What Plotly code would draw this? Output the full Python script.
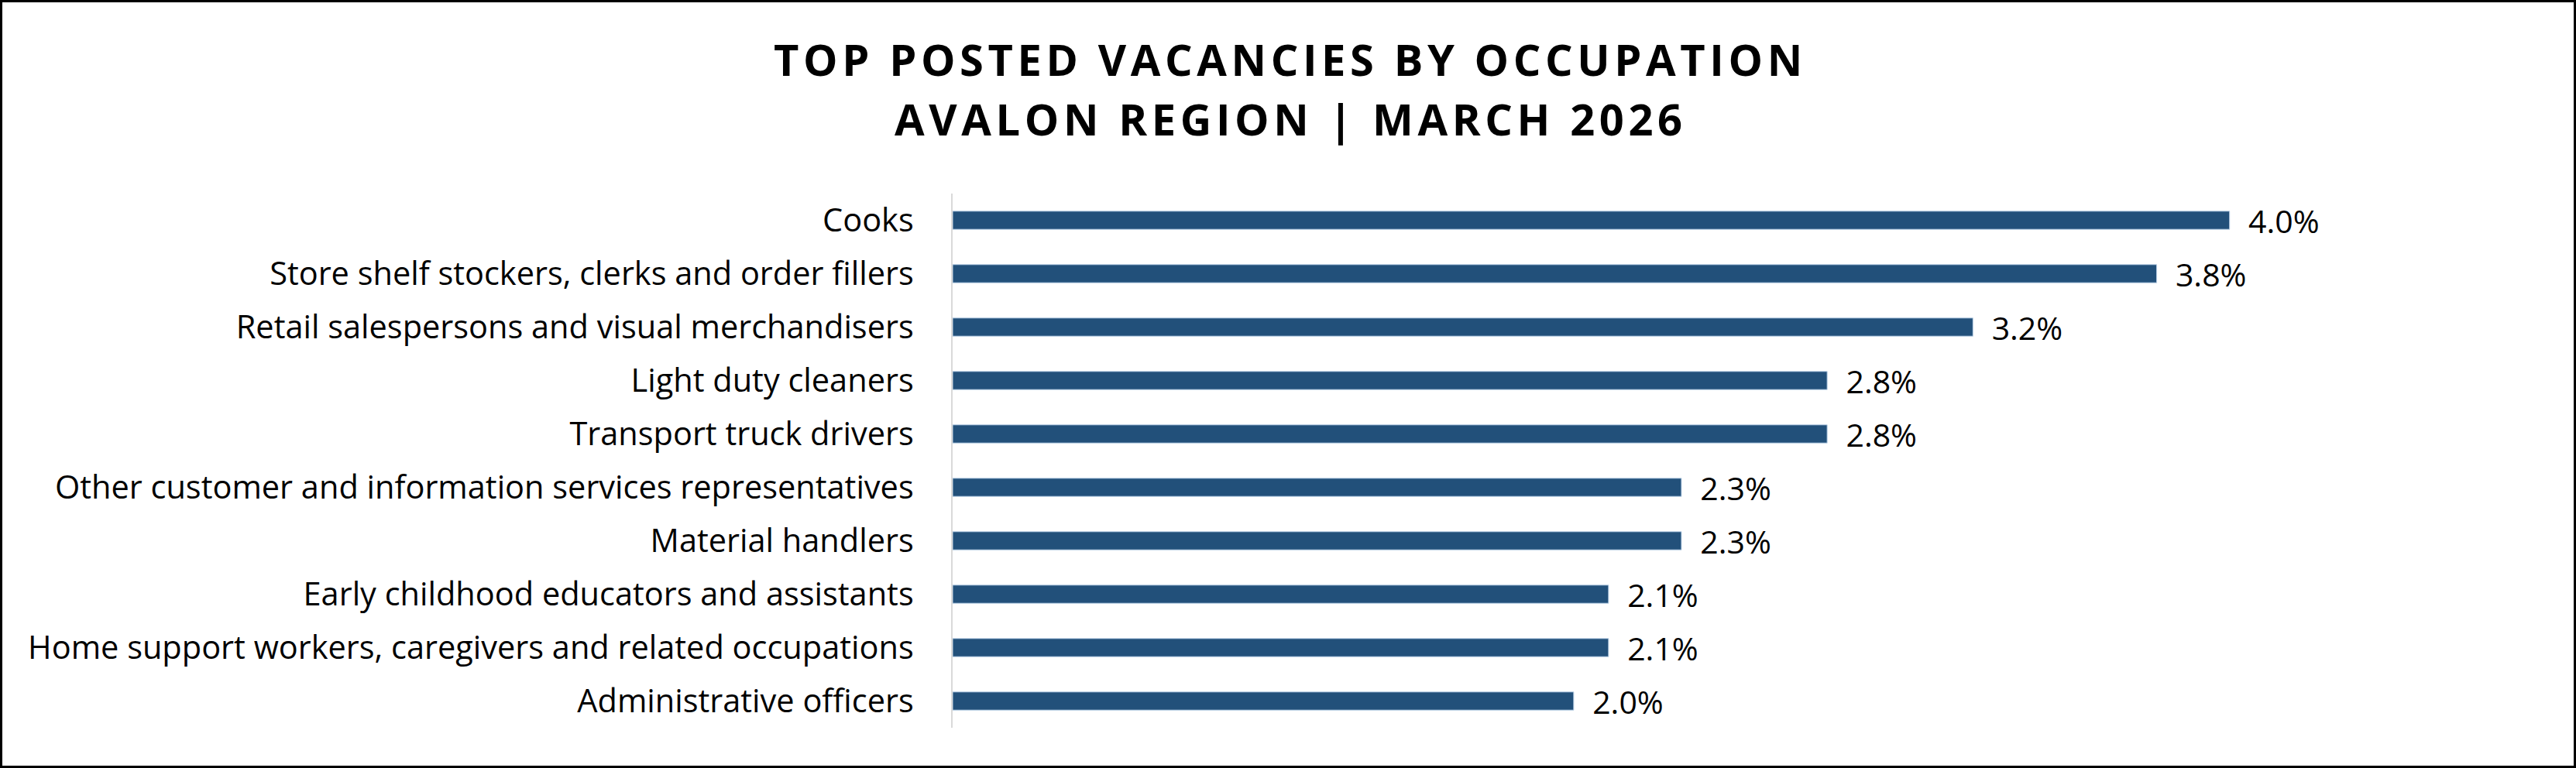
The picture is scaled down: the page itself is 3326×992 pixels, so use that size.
import plotly.graph_objects as go

categories = [
    "Cooks",
    "Store shelf stockers, clerks and order fillers",
    "Retail salespersons and visual merchandisers",
    "Light duty cleaners",
    "Transport truck drivers",
    "Other customer and information services representatives",
    "Material handlers",
    "Early childhood educators and assistants",
    "Home support workers, caregivers and related occupations",
    "Administrative officers",
]
shares = [0.0403, 0.0380, 0.0322, 0.0276, 0.0276, 0.0230, 0.0230, 0.0207, 0.0207, 0.0196]

title_lines = ["TOP POSTED VACANCIES BY OCCUPATION", "AVALON REGION | MARCH 2026"]

W, H = 3326, 992
L, R, T, B = 1230, 255, 250, 52
PW, PH = W - L - R, H - T - B

FONT = "Open Sans"
BAR = "#22507A"

def spaced(s):
    return "\u200a".join(list(s))

fig = go.Figure()
fig.add_trace(go.Bar(
    y=categories,
    x=shares,
    orientation="h",
    marker=dict(color=BAR, line=dict(color="#BDD3E8", width=1)),
    texttemplate="\u00a0\u00a0%{x:.1%}",
    textposition="outside",
    constraintext="none",
    cliponaxis=False,
    textfont=dict(family=FONT, size=41, color="#000000"),
    hoverinfo="skip",
))

fig.update_layout(
    width=W, height=H,
    margin=dict(l=L, r=R, t=T, b=B, autoexpand=False),
    paper_bgcolor="white",
    plot_bgcolor="white",
    showlegend=False,
    bargap=0.66,
    font=dict(family=FONT, color="#000000"),
)
fig.update_xaxes(range=[0, 0.045], visible=False, showgrid=False, zeroline=False)
fig.update_yaxes(
    autorange="reversed",
    showline=True, linecolor="#D9D9D9", linewidth=2,
    ticks="", showgrid=False, zeroline=False,
    tickfont=dict(family=FONT, size=41.5, color="#000000"),
    ticklabelstandoff=40,
)

ys = [1 + (250 - 76) / PH, 1 + (250 - 153) / PH]
for txt, yy in zip(title_lines, ys):
    fig.add_annotation(
        text="<b>" + spaced(txt) + "</b>",
        xref="paper", yref="paper",
        x=(W / 2 - L) / PW, y=yy,
        xanchor="center", yanchor="middle",
        showarrow=False,
        font=dict(family=FONT, size=56, color="#000000"),
    )

# outer frame
fig.add_shape(
    type="rect", xref="paper", yref="paper",
    x0=(1.5 - L) / PW, x1=(W - 1.5 - L) / PW,
    y0=-(B - 1.5) / PH, y1=1 + (T - 1.5) / PH,
    line=dict(color="#000000", width=3),
    fillcolor="rgba(0,0,0,0)",
    layer="above",
)

fig.write_html(
    "out.html",
    config={"displayModeBar": False},
    post_script="document.body.style.margin='0';document.body.style.overflow='hidden';",
)
